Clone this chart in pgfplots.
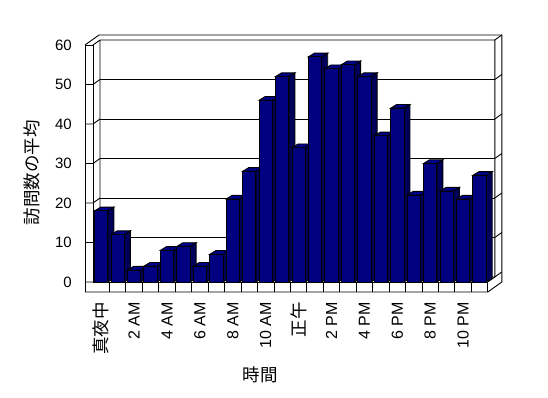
\documentclass[border=0pt]{standalone}
\usepackage{pgfplots}
\pgfplotsset{compat=1.18}
\usepackage{fontspec}
\setmainfont{Liberation Sans}
\newfontfamily\jp{Noto Sans CJK JP}
\definecolor{barfront}{RGB}{0,0,128}
\definecolor{bartop}{RGB}{0,0,136}
\definecolor{barside}{RGB}{0,0,90}
\pgfdeclareplotmark{nothing}{}
\begin{document}
\begin{tikzpicture}[line width=0.9pt]
\useasboundingbox (0pt,0pt) rectangle (548pt,398pt);
% back wall with its grid lines
\begin{axis}[at={(100pt,121pt)}, anchor=south west, x=16.45pt, y=3.95pt,
  xmin=-0.5, xmax=23.5, ymin=0, ymax=60, xtick=\empty, ytick={10,20,30,40,50},
  yticklabels={}, major tick length=0pt, ymajorgrids,
  grid style={black, line width=0.9pt, solid},
  axis line style={draw=none}]
\end{axis}
% walls and floor
\draw (85pt,106pt) -- (85pt,353pt) -- (93pt,353pt) -- (93pt,116pt);
\draw (85pt,353pt) -- (99pt,363pt) -- (501.8pt,363pt) -- (501.8pt,116pt) -- (487.8pt,106pt) -- (85pt,106pt);
\draw (93pt,353pt) -- (100pt,358pt) -- (494.8pt,358pt) -- (494.8pt,121pt) -- (100pt,121pt) -- (100pt,358pt);
\draw (494.8pt,358pt) -- (501.8pt,363pt);
\draw (93pt,116pt) -- (487.8pt,116pt) -- (487.8pt,106pt);
\draw (487.8pt,116pt) -- (494.8pt,121pt);
\foreach \v in {0,10,...,50} {
  \draw (85pt,{116pt+\v*3.95pt}) -- (93pt,{116pt+\v*3.95pt}) -- (100pt,{121pt+\v*3.95pt});
  \draw (494.8pt,{121pt+\v*3.95pt}) -- (501.8pt,{126pt+\v*3.95pt});
}
\foreach \k in {1,...,23} {\draw ({93pt+\k*16.45pt},106pt) -- ++(0pt,10pt);}
% front axis with the bars
\begin{axis}[at={(93pt,116pt)}, anchor=south west, x=16.45pt, y=3.95pt,
  xmin=-0.5, xmax=23.5, ymin=0, ymax=60, clip=false,
  axis line style={draw=none}, major tick length=0pt,
  ytick={0,10,...,60}, xtick={0,2,...,22},
  xticklabels={{\fontsize{17.5}{20}\selectfont\jp 真夜中},2 AM,4 AM,6 AM,8 AM,10 AM,{\fontsize{17.5}{20}\selectfont\jp 正午},2 PM,4 PM,6 PM,8 PM,10 PM},
  yticklabel style={font=\fontsize{15}{18}\selectfont},
  xticklabel style={font=\fontsize{16}{18}\selectfont},
  /pgf/number format/assume math mode=true,
  yticklabel style={anchor=east, inner sep=0pt, xshift=-21pt},
  xticklabel style={rotate=90, anchor=east, inner sep=0pt},
  xticklabel shift=20pt,
  xlabel={\jp 時間}, ylabel={\jp 訪問数の平均},
  label style={font=\fontsize{17.5}{20}\selectfont},
  xlabel style={at={(axis description cs:0.423,-0.392)}, anchor=center},
  ylabel style={at={(axis description cs:-0.155,0.46)}, anchor=center},
]
\addplot[scatter, only marks, mark=nothing,
  visualization depends on={y \as \barv},
  scatter/@pre marker code/.code={%
    \pgfmathsetlengthmacro\bh{\barv*3.95pt}%
    \filldraw[fill=barside, draw=black, line width=0.9pt] (6.65pt,0pt) -- (12.65pt,3.7pt) -- (12.65pt,{3.7pt-\bh}) -- (6.65pt,-\bh) -- cycle;
    \filldraw[fill=bartop, draw=black, line width=0.9pt] (-6.65pt,0pt) -- (-0.65pt,3.7pt) -- (12.65pt,3.7pt) -- (6.65pt,0pt) -- cycle;
    \filldraw[fill=barfront, draw=black, line width=0.9pt] (-6.65pt,0pt) rectangle (6.65pt,-\bh);
  },
  scatter/@post marker code/.code={}]
coordinates {
(0,18) (1,12) (2,3) (3,4) (4,8) (5,9) (6,4) (7,7) (8,21) (9,28) (10,46) (11,52)
(12,34) (13,57) (14,54) (15,55) (16,52) (17,37) (18,44) (19,22) (20,30) (21,23) (22,21) (23,27)
};
\end{axis}
\end{tikzpicture}
\end{document}
